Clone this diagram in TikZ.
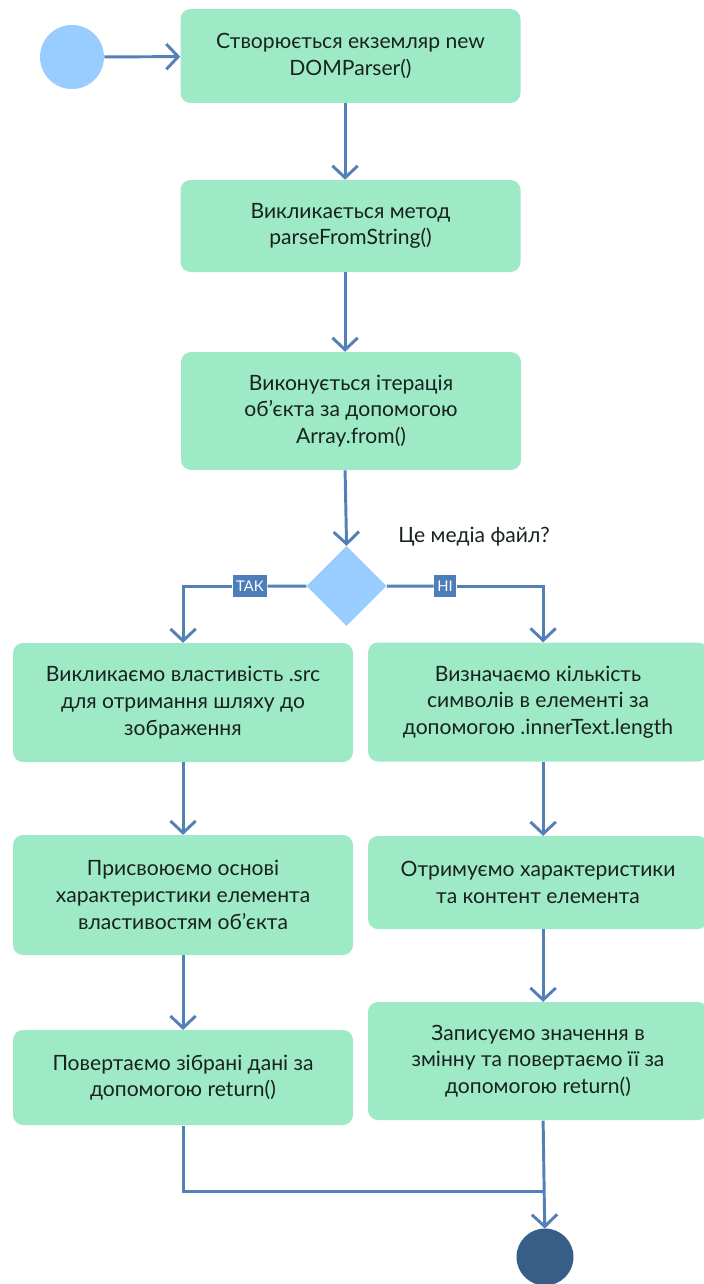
\documentclass[tikz,border=0pt]{standalone}
\usepackage{fontspec}
\setmainfont{Lato}
\usetikzlibrary{shapes.geometric,arrows.meta,calc}

\definecolor{boxgreen}{RGB}{158,234,198}
\definecolor{flowblue}{RGB}{84,128,184}
\definecolor{tagblue}{RGB}{77,126,186}
\definecolor{startblue}{RGB}{153,204,255}
\definecolor{endblue}{RGB}{54,94,135}
\definecolor{txt}{RGB}{24,34,32}

\begin{document}
\begin{tikzpicture}[scale=2.5]

        \def\w{8.5cm}

        % activity boxes, decision, labels on the branches
        \tikzset{
            act/.style={rectangle, rounded corners=0.25cm, fill=boxgreen,
                text=txt, align=center, minimum width=\w,
                font=\fontsize{15}{19}\selectfont},
            yesno/.style={rectangle, fill=tagblue, text=white,
                minimum height=0.55cm, inner sep=2.5pt,
                font=\fontsize{10.5}{12}\selectfont},
            arr/.style={-{Straight Barb[length=8.5pt,width=18pt]}}
        }

        \useasboundingbox (0, 0) rectangle (7.03, -12.84);

        \coordinate (mcol) at (3.45, 0);
        \coordinate (lcol) at (1.83, 0);
        \coordinate (rcol) at (5.43, 0);

        \begin{scope}
            \node[circle, fill=startblue, minimum size=1.6cm, inner sep=0]
            (start) at (0.72, -0.57) {};
            \node[act, minimum height=2.35cm] (B1) at (3.505, -0.56)
            {Створюється екземляр new\\DOMParser()};
            \node[act, minimum height=2.3cm] (B2) at (3.505, -2.26)
            {Викликається метод\\parseFromString()};
            \node[act, minimum height=2.95cm] (B3) at (3.51, -4.11)
            {Виконується ітерація\\об’єкта за допомогою\\Array.from()};

            \node[diamond, fill=startblue, minimum width=2cm,
                minimum height=2cm, inner sep=0] (dec) at (3.465, -5.86) {};
            \node[text=txt, font=\fontsize{15}{19}\selectfont]
            (quest) at (4.74, -5.37) {Це медіа файл?};
            \node[yesno] (yes) at (2.50, -5.86) {ТАК};
            \node[yesno] (no) at (4.45, -5.86) {НІ};

            \node[act, minimum height=2.975cm] (L1) at (1.83, -7.025)
            {Викликаємо властивість .src\\для отримання шляху до\\зображення};
            \node[act, minimum height=3cm] (L2) at (1.83, -8.95)
            {Присвоюємо основі\\характеристики елемента\\властивостям об’єкта};
            \node[act, minimum height=2.375cm] (L3) at (1.83, -10.775)
            {Повертаємо зібрані дані за\\допомогою return()};

            \node[act, minimum height=2.975cm] (R1) at (5.38, -7.02)
            {Визначаємо кількість\\символів в елементі за\\допомогою .innerText.length};
            \node[act, minimum height=2.325cm] (R2) at (5.38, -8.825)
            {Отримуємо характеристики\\та контент елемента};
            \node[act, minimum height=2.95cm] (R3) at (5.38, -10.61)
            {Записуємо значення в\\змінну та повертаємо її за\\допомогою return()};

            \node[circle, fill=endblue, minimum size=1.425cm, inner sep=0]
            (end) at (5.45, -12.57) {};
        \end{scope}

        \coordinate (join) at (5.43, -11.91);

        \begin{scope}[line width=2.1pt, color=flowblue]
            \draw[arr] (start) -- (B1);
            \draw[arr] (B1.south -| mcol) -- (B2.north -| mcol);
            \draw[arr] (B2.south -| mcol) -- (B3.north -| mcol);
            \draw[arr] (B3.south -| mcol) -- (dec.north);

            \draw (dec.west) -- (yes);
            \draw[arr] (yes) -| (L1.north -| lcol);
            \draw (dec.east) -- (no);
            \draw[arr] (no) -| (R1.north -| rcol);

            \draw[arr] (L1.south -| lcol) -- (L2.north -| lcol);
            \draw[arr] (L2.south -| lcol) -- (L3.north -| lcol);
            \draw[arr] (R1.south -| rcol) -- (R2.north -| rcol);
            \draw[arr] (R2.south -| rcol) -- (R3.north -| rcol);

            \draw (L3.south -| lcol) |- (join);
            \draw[arr] (R3.south -| rcol) -- (end);
        \end{scope}

\end{tikzpicture}
\end{document}
